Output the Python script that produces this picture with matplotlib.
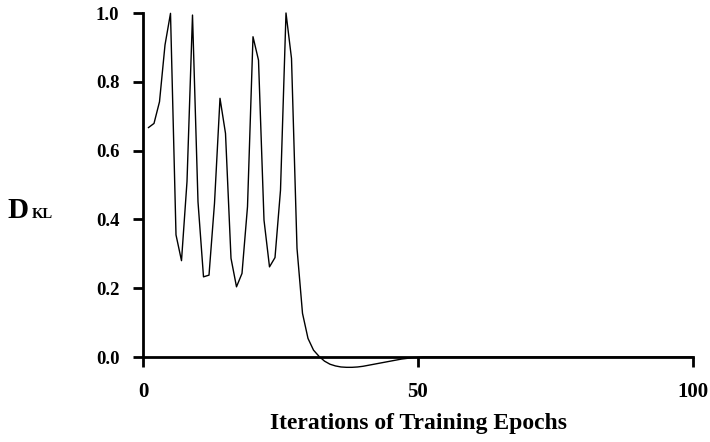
import matplotlib

matplotlib.use("Agg")
import matplotlib.pyplot as plt

# KL divergence per training epoch
epochs = list(range(1, 101))
dkl_head = [
    0.667, 0.679, 0.742, 0.907, 0.999, 0.355, 0.280, 0.510, 0.994, 0.451,
    0.233, 0.238, 0.447, 0.752, 0.650, 0.287, 0.204, 0.243, 0.437, 0.931,
    0.863, 0.398, 0.262, 0.289, 0.485, 1.000, 0.868, 0.316, 0.127, 0.054,
    0.020, 0.002, -0.012, -0.021, -0.026, -0.029, -0.030, -0.030, -0.029, -0.027,
    -0.024, -0.021, -0.018, -0.015, -0.012, -0.009, -0.006, -0.004, -0.002, -0.001,
]
dkl_tail = [0.0] * 50
dkl = dkl_head + dkl_tail

x_ticks = [0, 50, 100]
y_ticks = [0.0, 0.2, 0.4, 0.6, 0.8, 1.0]

FONT = "Liberation Serif"


def main():
    figure = plt.figure(figsize=(7.10, 4.42), dpi=100)
    axis = figure.add_axes([143 / 710, 1 - 357 / 442, 550 / 710, 344 / 442])

    axis.plot(epochs, dkl, color="black", linewidth=1.0, clip_on=False, zorder=3)

    axis.set_xlim(0, 100)
    axis.set_ylim(0, 1.0)
    axis.set_xticks(x_ticks)
    axis.set_yticks(y_ticks)
    axis.set_xticklabels([str(t) for t in x_ticks])
    axis.set_yticklabels([f"{t:.1f}" for t in y_ticks])

    for side in ("top", "right"):
        axis.spines[side].set_visible(False)
    for side in ("left", "bottom"):
        axis.spines[side].set_linewidth(2.0)
        axis.spines[side].set_zorder(2)

    axis.tick_params(axis="both", direction="out", length=7, width=2.0)
    axis.tick_params(axis="x", pad=11, labelsize=15)
    axis.tick_params(axis="y", pad=10, labelsize=13.5)
    for label in axis.get_xticklabels() + axis.get_yticklabels():
        label.set_fontfamily(FONT)
        label.set_fontweight("bold")

    axis.set_xlabel(
        "Iterations of Training Epochs",
        fontfamily=FONT,
        fontweight="bold",
        fontsize=17,
        labelpad=8,
    )

    figure.text(7 / 710, 1 - 218 / 442, "D", fontfamily=FONT, fontweight="bold",
                fontsize=21, ha="left", va="baseline")
    figure.text(32 / 710, 1 - 218 / 442, "KL", fontfamily=FONT, fontweight="bold",
                fontsize=10.5, ha="left", va="baseline")

    figure.savefig("out.png", dpi=100, facecolor="white")
    plt.close(figure)


if __name__ == "__main__":
    main()
